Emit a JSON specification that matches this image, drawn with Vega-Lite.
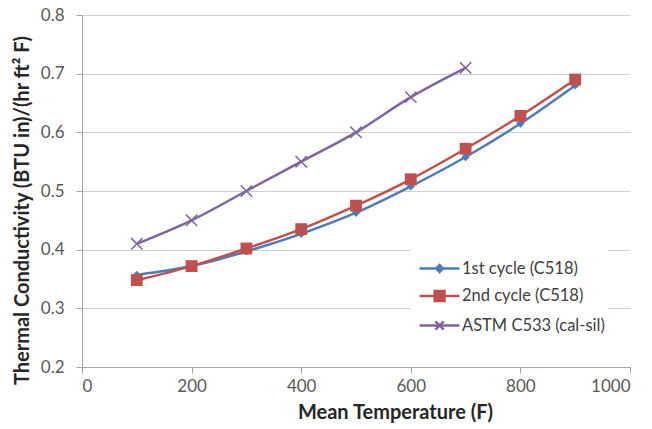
{
  "$schema": "https://vega.github.io/schema/vega-lite/v6.json",
  "width": 548,
  "height": 352,
  "autosize": {"type": "none"},
  "padding": {"left": 82, "top": 15, "right": 22, "bottom": 62},
  "background": "white",
  "config": {
    "view": {"stroke": null},
    "font": "Lato",
    "axis": {
      "labelFont": "Lato",
      "titleFont": "Lato",
      "labelFontSize": 17,
      "labelColor": "#595959",
      "titleFontSize": 20,
      "titleFontWeight": "bold",
      "titleColor": "#262626",
      "domainColor": "#a6a6a6",
      "tickColor": "#a6a6a6",
      "gridColor": "#d0d0d0",
      "tickSize": 6
    }
  },
  "data": {
    "values": [
      {"series": "1st cycle (C518)", "T": 100, "k": 0.357},
      {"series": "1st cycle (C518)", "T": 200, "k": 0.372},
      {"series": "1st cycle (C518)", "T": 300, "k": 0.397},
      {"series": "1st cycle (C518)", "T": 400, "k": 0.427},
      {"series": "1st cycle (C518)", "T": 500, "k": 0.463},
      {"series": "1st cycle (C518)", "T": 600, "k": 0.508},
      {"series": "1st cycle (C518)", "T": 700, "k": 0.558},
      {"series": "1st cycle (C518)", "T": 800, "k": 0.615},
      {"series": "1st cycle (C518)", "T": 900, "k": 0.68},
      {"series": "2nd cycle (C518)", "T": 100, "k": 0.348},
      {"series": "2nd cycle (C518)", "T": 200, "k": 0.372},
      {"series": "2nd cycle (C518)", "T": 300, "k": 0.402},
      {"series": "2nd cycle (C518)", "T": 400, "k": 0.435},
      {"series": "2nd cycle (C518)", "T": 500, "k": 0.475},
      {"series": "2nd cycle (C518)", "T": 600, "k": 0.52},
      {"series": "2nd cycle (C518)", "T": 700, "k": 0.572},
      {"series": "2nd cycle (C518)", "T": 800, "k": 0.628},
      {"series": "2nd cycle (C518)", "T": 900, "k": 0.69},
      {"series": "ASTM C533 (cal-sil)", "T": 100, "k": 0.41},
      {"series": "ASTM C533 (cal-sil)", "T": 200, "k": 0.45},
      {"series": "ASTM C533 (cal-sil)", "T": 300, "k": 0.5},
      {"series": "ASTM C533 (cal-sil)", "T": 400, "k": 0.55},
      {"series": "ASTM C533 (cal-sil)", "T": 500, "k": 0.6},
      {"series": "ASTM C533 (cal-sil)", "T": 600, "k": 0.66},
      {"series": "ASTM C533 (cal-sil)", "T": 700, "k": 0.71}
    ]
  },
  "encoding": {
    "x": {
      "field": "T", "type": "quantitative",
      "scale": {"domain": [0, 1000], "nice": false},
      "axis": {"values": [0, 200, 400, 600, 800, 1000], "format": "d", "grid": false, "title": "Mean Temperature (F)", "titlePadding": 8, "labelPadding": 5, "titleX": 313}
    },
    "y": {
      "field": "k", "type": "quantitative",
      "scale": {"domain": [0.2, 0.8], "nice": false, "zero": false},
      "axis": {"values": [0.2, 0.3, 0.4, 0.5, 0.6, 0.7, 0.8], "format": ".1f", "grid": true, "title": "Thermal  Conductivity (BTU in)/(hr ft² F)", "titlePadding": 8, "labelPadding": 12, "titleY": 195}
    },
    "color": {
      "field": "series", "type": "nominal",
      "scale": {"domain": ["1st cycle (C518)", "2nd cycle (C518)", "ASTM C533 (cal-sil)"], "range": ["#4a7ebb", "#c0504d", "#8064a2"]},
      "legend": {
        "title": null,
        "orient": "none",
        "legendX": 328,
        "legendY": 235,
        "fillColor": "white",
        "padding": 3,
        "labelFont": "Lato",
        "labelFontSize": 16.5,
        "labelColor": "#404040",
        "symbolSize": 784,
        "symbolStrokeWidth": 2.5,
        "rowPadding": 3.5,
        "labelOffset": 18,
        "encode": {
          "symbols": {
            "update": {
              "shape": {"signal": "datum.value === '1st cycle (C518)' ? 'M-0.64,0L2.21,0M0.79,-0.25L1.04,0L0.79,0.25L0.54,0Z' : datum.value === '2nd cycle (C518)' ? 'M-0.64,0L2.21,0M0.44,-0.35L1.14,-0.35L1.14,0.35L0.44,0.35Z' : 'M-0.64,0L2.21,0M0.49,-0.3L1.09,0.3M1.09,-0.3L0.49,0.3'"},
              "stroke": {"signal": "scale('color', datum.value)"},
              "fill": {"signal": "scale('color', datum.value)"},
              "strokeWidth": {"value": 2.5},
              "opacity": {"value": 1}
            }
          }
        }
      }
    }
  },
  "layer": [
    {
      "mark": {"type": "line", "interpolate": "monotone", "strokeWidth": 2.5}
    },
    {
      "transform": [{"filter": "datum.series === '1st cycle (C518)'"}],
      "mark": {"type": "point", "filled": true, "opacity": 1, "shape": "diamond", "size": 70, "strokeWidth": 1}
    },
    {
      "transform": [{"filter": "datum.series === '2nd cycle (C518)'"}],
      "mark": {"type": "point", "filled": true, "opacity": 1, "shape": "square", "size": 140}
    },
    {
      "transform": [{"filter": "datum.series === 'ASTM C533 (cal-sil)'"}],
      "mark": {"type": "point", "filled": false, "opacity": 1, "shape": "M-1,-1L1,1M1,-1L-1,1", "size": 130, "strokeWidth": 1.5}
    }
  ]
}
